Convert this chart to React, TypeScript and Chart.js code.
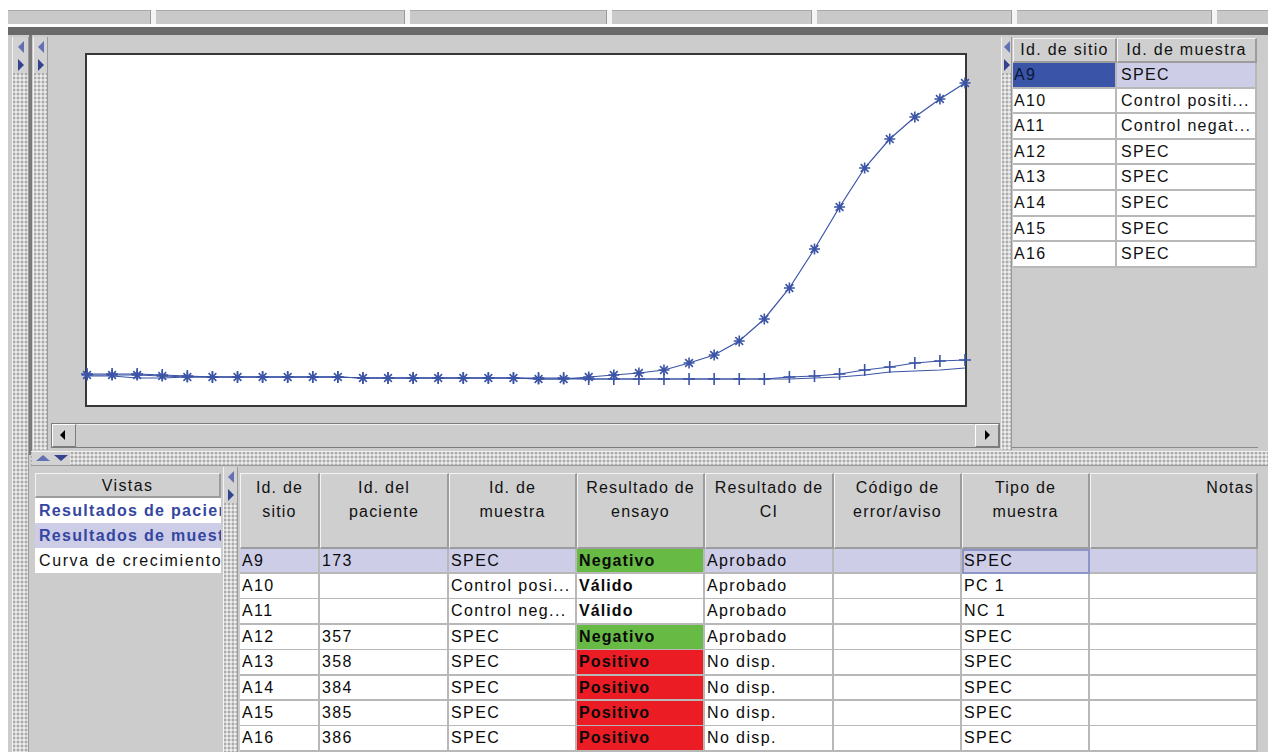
import React, { useEffect, useRef } from 'react';
import { Chart, registerables } from 'chart.js';
Chart.register(...registerables);

// ---- chart data ----
const ciclos = [1, 2, 3, 4, 5, 6, 7, 8, 9, 10, 11, 12, 13, 14, 15, 16, 17, 18, 19, 20, 21, 22, 23, 24, 25, 26, 27, 28, 29, 30, 31, 32, 33, 34, 35, 36];
const curvaAsterisco = [30, 30, 30, 29, 28, 28, 28, 28, 28, 28, 28, 27, 27, 27, 27, 27, 27, 27, 26, 26, 28, 30, 32, 35, 42, 50, 64, 86, 117, 156, 198, 237, 266, 288, 306, 322];
const curvaCruz = [31, 31, 31, 30, 29, 28, 28, 28, 28, 28, 28, 27, 27, 27, 27, 27, 27, 27, 27, 27, 26, 26, 26, 26, 26, 26, 26, 26, 28, 29, 31, 35, 38, 42, 44, 45];
const curvaSimple = [29, 29, 27, 27, 28, 28, 28, 28, 28, 28, 28, 27, 27, 27, 27, 27, 27, 27, 26, 26, 26, 26, 26, 26, 26, 26, 26, 26, 26, 27, 28, 30, 33, 34, 35, 37];
const yMin = 0;
const yMax = 350;

// ---- table data ----
const sitios = ['A9', 'A10', 'A11', 'A12', 'A13', 'A14', 'A15', 'A16'];
const muestrasLista = ['SPEC', 'Control positi...', 'Control negat...', 'SPEC', 'SPEC', 'SPEC', 'SPEC', 'SPEC'];
const pacientes = ['173', '', '', '357', '358', '384', '385', '386'];
const muestras = ['SPEC', 'Control posi...', 'Control neg...', 'SPEC', 'SPEC', 'SPEC', 'SPEC', 'SPEC'];
const ensayos = ['Negativo', 'Válido', 'Válido', 'Negativo', 'Positivo', 'Positivo', 'Positivo', 'Positivo'];
const resultadosCI = ['Aprobado', 'Aprobado', 'Aprobado', 'Aprobado', 'No disp.', 'No disp.', 'No disp.', 'No disp.'];
const codigos = ['', '', '', '', '', '', '', ''];
const tipos = ['SPEC', 'PC 1', 'NC 1', 'SPEC', 'SPEC', 'SPEC', 'SPEC', 'SPEC'];
const notas = ['', '', '', '', '', '', '', ''];
const encabezados = ['Id. de\nsitio', 'Id. del\npaciente', 'Id. de\nmuestra', 'Resultado de\nensayo', 'Resultado de\nCI', 'Código de\nerror/aviso', 'Tipo de\nmuestra', 'Notas'];
const encabezadosLista = ['Id. de sitio', 'Id. de muestra'];
const vistas = ['Resultados de pacientes', 'Resultados de muestras', 'Curva de crecimiento'];

const FONT = "'Liberation Sans', Arial, sans-serif";
const GRAY = '#cccccc';
const LAV = '#cdcde8';
const BLUE = '#3b54a6';

const abs = (l: number, t: number, w: number, h: number, extra: any = {}) => ({
  position: 'absolute' as const, left: l, top: t, width: w, height: h, boxSizing: 'border-box' as const, ...extra,
});

const dots = {
  backgroundColor: '#d4d4d4',
  backgroundImage: 'radial-gradient(circle at 1px 1px, #9c9c9c 0.6px, transparent 1px), radial-gradient(circle at 3px 3px, #f6f6f6 0.6px, transparent 1px)',
  backgroundSize: '4px 4px, 4px 4px',
};

function TriL({ x, y, c, s = 6 }: any) {
  return <div style={abs(x, y, 0, 0, { borderTop: `${s}px solid transparent`, borderBottom: `${s}px solid transparent`, borderRight: `${s}px solid ${c}` })} />;
}
function TriR({ x, y, c, s = 6 }: any) {
  return <div style={abs(x, y, 0, 0, { borderTop: `${s}px solid transparent`, borderBottom: `${s}px solid transparent`, borderLeft: `${s}px solid ${c}` })} />;
}
function TriU({ x, y, c, s = 6 }: any) {
  return <div style={abs(x, y, 0, 0, { borderLeft: `${s + 1}px solid transparent`, borderRight: `${s + 1}px solid transparent`, borderBottom: `${s}px solid ${c}` })} />;
}
function TriD({ x, y, c, s = 6 }: any) {
  return <div style={abs(x, y, 0, 0, { borderLeft: `${s + 1}px solid transparent`, borderRight: `${s + 1}px solid transparent`, borderTop: `${s}px solid ${c}` })} />;
}

function VSplit({ x, y, w, h }: any) {
  return (
    <>
      <div style={abs(x, y, w, h, { ...dots, borderLeft: '1px solid #f2f2f2', borderRight: '1px solid #9a9a9a' })} />
      <div style={abs(x + 1, y, w - 2, 36, { background: '#d2d2d2' })} />
      <TriL x={x + Math.round(w / 2) - 3} y={y + 4} c="#6470b4" />
      <TriR x={x + Math.round(w / 2) - 3} y={y + 22} c="#33438e" />
    </>
  );
}

function GrowthChart() {
  const ref = useRef<HTMLCanvasElement>(null);
  useEffect(() => {
    if (!ref.current) return;
    const base = {
      borderColor: BLUE, backgroundColor: BLUE, borderWidth: 1.2, tension: 0, clip: false as any,
      pointBorderColor: BLUE, pointBackgroundColor: BLUE, pointBorderWidth: 1.6,
    };
    const chart = new Chart(ref.current, {
      type: 'line',
      data: {
        labels: ciclos,
        datasets: [
          { ...base, label: 'A', data: curvaAsterisco, pointStyle: 'star', pointRadius: 5.5 },
          { ...base, label: 'B', data: curvaCruz, pointStyle: 'cross', pointRadius: 6 },
          { ...base, label: 'C', data: curvaSimple, pointRadius: 0 },
        ],
      },
      options: {
        animation: false, responsive: false, maintainAspectRatio: false,
        layout: { padding: { left: 20, right: 20, top: 20, bottom: 20 } },
        scales: { x: { display: false }, y: { display: false, min: yMin, max: yMax } },
        plugins: { legend: { display: false }, tooltip: { enabled: false } },
        events: [],
      },
    });
    return () => chart.destroy();
  }, []);
  return <canvas ref={ref} width={918} height={390} style={abs(67, 35, 918, 390)} />;
}

export default function App() {
  const txt = { fontFamily: FONT, fontSize: 16, letterSpacing: '1.4px', color: '#111' };
  const colEdges = [240, 320, 449, 577, 705, 834, 962, 1090, 1258];
  const rowsMain = sitios.map((s, i) => [s, pacientes[i], muestras[i], ensayos[i], resultadosCI[i], codigos[i], tipos[i], notas[i]]);
  const RH = 25.4;
  const RT = 548.5;
  const TRH = 25.6;
  const TRT = 63;
  return (
    <div style={{ position: 'fixed', left: 0, top: 0, width: 1268, height: 752, overflow: 'hidden', background: '#fff', ...txt }}>
      {/* top bars */}
      <div style={abs(8, 10, 1260, 14, { background: '#c9c9c9', borderTop: '1px solid #a8a8a8' })} />
      {[150, 404, 606, 811, 1011, 1211].map((x) => (
        <div key={x} style={abs(x, 10, 6, 14, { background: '#f4f4f4', borderLeft: '1px solid #999' })} />
      ))}
      <div style={abs(8, 27, 1260, 8, { background: '#6a6a6a' })} />
      {/* main gray background */}
      <div style={abs(8, 35, 1260, 717, { background: GRAY })} />
      {/* outer left splitter */}
      <VSplit x={12} y={37} w={17} h={715} />
      <div style={abs(29, 35, 3, 420, { background: '#7a7a7a' })} />
      {/* inner left splitter (upper) */}
      <VSplit x={33} y={37} w={15} h={413} />
      {/* chart box */}
      <div style={abs(85, 53, 882, 354, { background: '#fff', border: '2px solid #383838' })} />
      <GrowthChart />
      {/* horizontal scrollbar */}
      <div style={abs(51, 423, 949, 25, { background: GRAY, border: '1px solid #7c7c7c' })} />
      <div style={abs(52, 424, 24, 23, { background: '#d0d0d0', borderTop: '1px solid #fff', borderLeft: '1px solid #fff', borderRight: '1px solid #7c7c7c', borderBottom: '1px solid #7c7c7c' })} />
      <TriL x={60} y={430} c="#000" s={5} />
      <div style={abs(975, 424, 24, 23, { background: '#d0d0d0', borderTop: '1px solid #fff', borderLeft: '1px solid #fff', borderRight: '1px solid #7c7c7c', borderBottom: '1px solid #7c7c7c' })} />
      <TriR x={985} y={430} c="#000" s={5} />
      <div style={abs(77, 424, 897, 1, { background: '#f2f2f2' })} />
      {/* right splitter */}
      <VSplit x={1001} y={37} w={11} h={413} />
      {/* right list table */}
      <div style={abs(1012, 38, 246, 410, { background: GRAY, borderBottom: '1px solid #8a8a8a' })} />
      {encabezadosLista.map((h, j) => {
        const l = j === 0 ? 1013 : 1117;
        const w = j === 0 ? 104 : 140;
        return (
          <div key={h} style={abs(l, 38, w, 25, { background: '#cfcfcf', borderTop: '1px solid #f4f4f4', borderLeft: '1px solid #f4f4f4', borderRight: '2px solid #9c9c9c', borderBottom: '2px solid #9c9c9c', textAlign: 'center', lineHeight: '22px', letterSpacing: '1.3px', whiteSpace: 'nowrap', overflow: 'hidden' })}>{h}</div>
        );
      })}
      {sitios.map((s, i) => (
        <React.Fragment key={s}>
          <div style={abs(1013, TRT + i * TRH, 104, TRH, { background: i === 0 ? '#3a55a8' : '#fff', color: i === 0 ? '#0b1838' : '#111', borderRight: '2px solid #b8b8b8', borderBottom: '2px solid #b8b8b8', paddingLeft: 1, lineHeight: `${TRH - 2}px`, whiteSpace: 'nowrap', overflow: 'hidden' })}>{s}</div>
          <div style={abs(1117, TRT + i * TRH, 140, TRH, { background: i === 0 ? LAV : '#fff', borderRight: '2px solid #b8b8b8', borderBottom: '2px solid #b8b8b8', paddingLeft: 4, lineHeight: `${TRH - 2}px`, letterSpacing: '1.3px', whiteSpace: 'nowrap', overflow: 'hidden' })}>{muestrasLista[i]}</div>
        </React.Fragment>
      ))}
      {/* horizontal splitter */}
      <div style={abs(31, 451, 1237, 15, { ...dots, borderTop: '1px solid #f2f2f2', borderBottom: '1px solid #9a9a9a' })} />
      <div style={abs(32, 452, 38, 13, { background: '#d2d2d2' })} />
      <TriU x={36} y={455} c="#6470b4" s={6} />
      <TriD x={54} y={455} c="#33438e" s={6} />
      {/* Vistas */}
      <div style={abs(35, 473, 186, 25, { background: '#cfcfcf', borderTop: '1px solid #f4f4f4', borderLeft: '1px solid #f4f4f4', borderRight: '2px solid #9c9c9c', borderBottom: '2px solid #9c9c9c', textAlign: 'center', lineHeight: '24px' })}>Vistas</div>
      {vistas.map((v, i) => (
        <div key={v} style={abs(35, 498 + i * 25, 186, 25, { background: i === 1 ? LAV : '#fff', color: i < 2 ? '#3446a0' : '#111', fontWeight: i < 2 ? 700 : 400, letterSpacing: i < 2 ? '1.3px' : '1.6px', paddingLeft: 4, lineHeight: '25px', whiteSpace: 'nowrap', overflow: 'hidden' })}>{v}</div>
      ))}
      <VSplit x={223} y={467} w={15} h={285} />
      {/* main table header */}
      {encabezados.map((h, j) => (
        <div key={h} style={abs(colEdges[j], 473, colEdges[j + 1] - colEdges[j], 76, { background: '#cfcfcf', borderTop: '1px solid #f4f4f4', borderLeft: '1px solid #f4f4f4', borderRight: '2px solid #9c9c9c', borderBottom: '2px solid #9c9c9c', textAlign: j === 7 ? 'right' : 'center', paddingTop: 2, paddingRight: j === 7 ? 2 : 0, lineHeight: '24px', letterSpacing: '1.2px', whiteSpace: 'pre', overflow: 'hidden' })}>{h}</div>
      ))}
      {/* main table rows */}
      {rowsMain.map((r, i) => r.map((c, j) => {
        let bg = i === 0 ? LAV : '#fff';
        let weight = 400;
        let ls = '1.4px';
        if (j === 3) {
          weight = 700;
          ls = '1.1px';
          if (c === 'Negativo') bg = '#67bb45';
          else if (c === 'Positivo') bg = '#ec1c24';
        }
        const focus = i === 0 && j === 6;
        return (
          <div key={`${i}-${j}`} style={abs(colEdges[j], RT + i * RH, colEdges[j + 1] - colEdges[j], RH + 0.5, { background: bg, fontWeight: weight, letterSpacing: ls, color: '#0a0a0a', borderRight: '2px solid #b8b8b8', borderBottom: '2px solid #b8b8b8', outline: focus ? '2px solid #8c94c8' : 'none', outlineOffset: focus ? '-2px' : 0, paddingLeft: 2, lineHeight: `${RH - 1}px`, whiteSpace: 'nowrap', overflow: 'hidden' })}>{c}</div>
        );
      }))}
    </div>
  );
}
